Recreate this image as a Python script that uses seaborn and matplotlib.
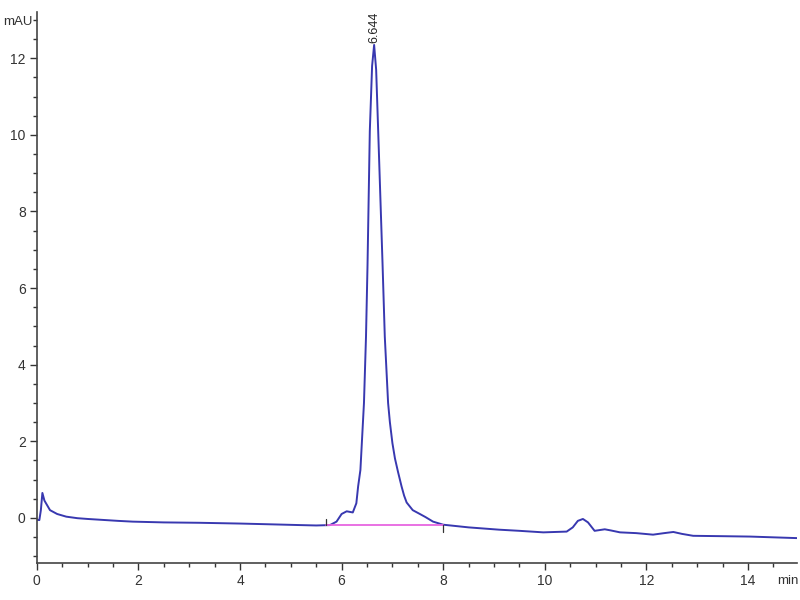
import pandas as pd
import seaborn as sns
import matplotlib.pyplot as plt
from matplotlib.ticker import MultipleLocator

# === Trace (min, mAU) ===
time_min = [0.0, 0.05, 0.08, 0.11, 0.15, 0.26, 0.4, 0.58, 0.8, 1.0, 1.24, 1.6,
            1.89, 2.5, 3.2, 4.0, 4.6, 5.18, 5.5, 5.77, 5.9, 6.0, 6.1, 6.22,
            6.29, 6.325, 6.37, 6.44, 6.48, 6.51, 6.555, 6.60, 6.64, 6.68,
            6.72, 6.805, 6.85, 6.915, 6.95, 7.0, 7.05, 7.11, 7.18, 7.23, 7.28,
            7.4, 7.54, 7.65, 7.8, 8.0,
            8.5, 9.1, 9.5, 9.97, 10.2, 10.43, 10.55, 10.65, 10.75, 10.85,
            10.98, 11.18, 11.3, 11.48, 11.8, 12.13, 12.35, 12.53, 12.7, 12.92,
            13.5, 14.04, 14.5, 14.96]
signal_mau = [-0.05, -0.06, 0.2, 0.65, 0.45, 0.2, 0.1, 0.03, -0.01, -0.03,
              -0.05, -0.08, -0.1, -0.12, -0.13, -0.15, -0.17, -0.19, -0.2,
              -0.19, -0.1, 0.1, 0.17, 0.14, 0.38, 0.82, 1.25, 3.0, 4.73, 6.6,
              10.1, 11.8, 12.35, 11.7, 10.1, 6.66, 4.73, 3.0, 2.5, 1.95, 1.55,
              1.2, 0.82, 0.58, 0.4, 0.2, 0.1, 0.02, -0.1, -0.18,
              -0.25, -0.31, -0.34, -0.38, -0.37,
              -0.36, -0.25, -0.08, -0.03, -0.12, -0.34, -0.3, -0.33, -0.38,
              -0.4, -0.44, -0.4, -0.37, -0.42, -0.47, -0.48, -0.49, -0.51,
              -0.53]

# integration baseline of the main peak
base_t = [5.7, 8.0]
base_v = [-0.2, -0.2]

peak_rt = 6.644
peak_height = 12.35

df = pd.DataFrame({"time": time_min, "mAU": signal_mau})

sns.set_style("ticks")
plt.rcParams["font.family"] = ["Liberation Sans", "DejaVu Sans"]

fig = plt.figure(figsize=(8, 6), dpi=100)
ax = fig.add_axes([0.046, 0.062, 0.95, 0.918])

sns.lineplot(data=df, x="time", y="mAU", ax=ax, color="#3838b0", linewidth=1.4)
ax.plot(base_t, base_v, color="#e766e0", linewidth=1.3)
# integration start/end markers
ax.plot([base_t[0], base_t[0]], [-0.2, -0.02], color="#333333", linewidth=0.9)
ax.plot([base_t[1], base_t[1]], [-0.2, -0.38], color="#333333", linewidth=0.9)

ax.text(peak_rt, peak_height + 0.05, f"{peak_rt:.3f}", rotation=90,
        ha="center", va="bottom", fontsize=9, color="#222222")

ax.set_xlim(0, 14.96)
ax.set_ylim(-1.175, 13.21)
ax.xaxis.set_major_locator(MultipleLocator(2))
ax.xaxis.set_minor_locator(MultipleLocator(0.5))
ax.yaxis.set_major_locator(MultipleLocator(2))
ax.yaxis.set_minor_locator(MultipleLocator(0.5))
ax.tick_params(which="major", length=5, width=1, color="#333333",
               labelsize=10, labelcolor="#333333", pad=3)
ax.tick_params(which="minor", length=3, width=1, color="#333333")
ax.set_xlabel("")
ax.set_ylabel("")
for s in ("left", "bottom"):
    ax.spines[s].set_color("#444444")
    ax.spines[s].set_linewidth(1.2)
sns.despine(ax=ax)

fig.text(3 / 800, 1 - 22 / 600, "mAU", fontsize=9.5, color="#333333",
         ha="left", va="center")
fig.text(777 / 800, 1 - 581 / 600, "min", fontsize=9.5, color="#333333",
         ha="left", va="center")

fig.savefig("out.png", dpi=100)
